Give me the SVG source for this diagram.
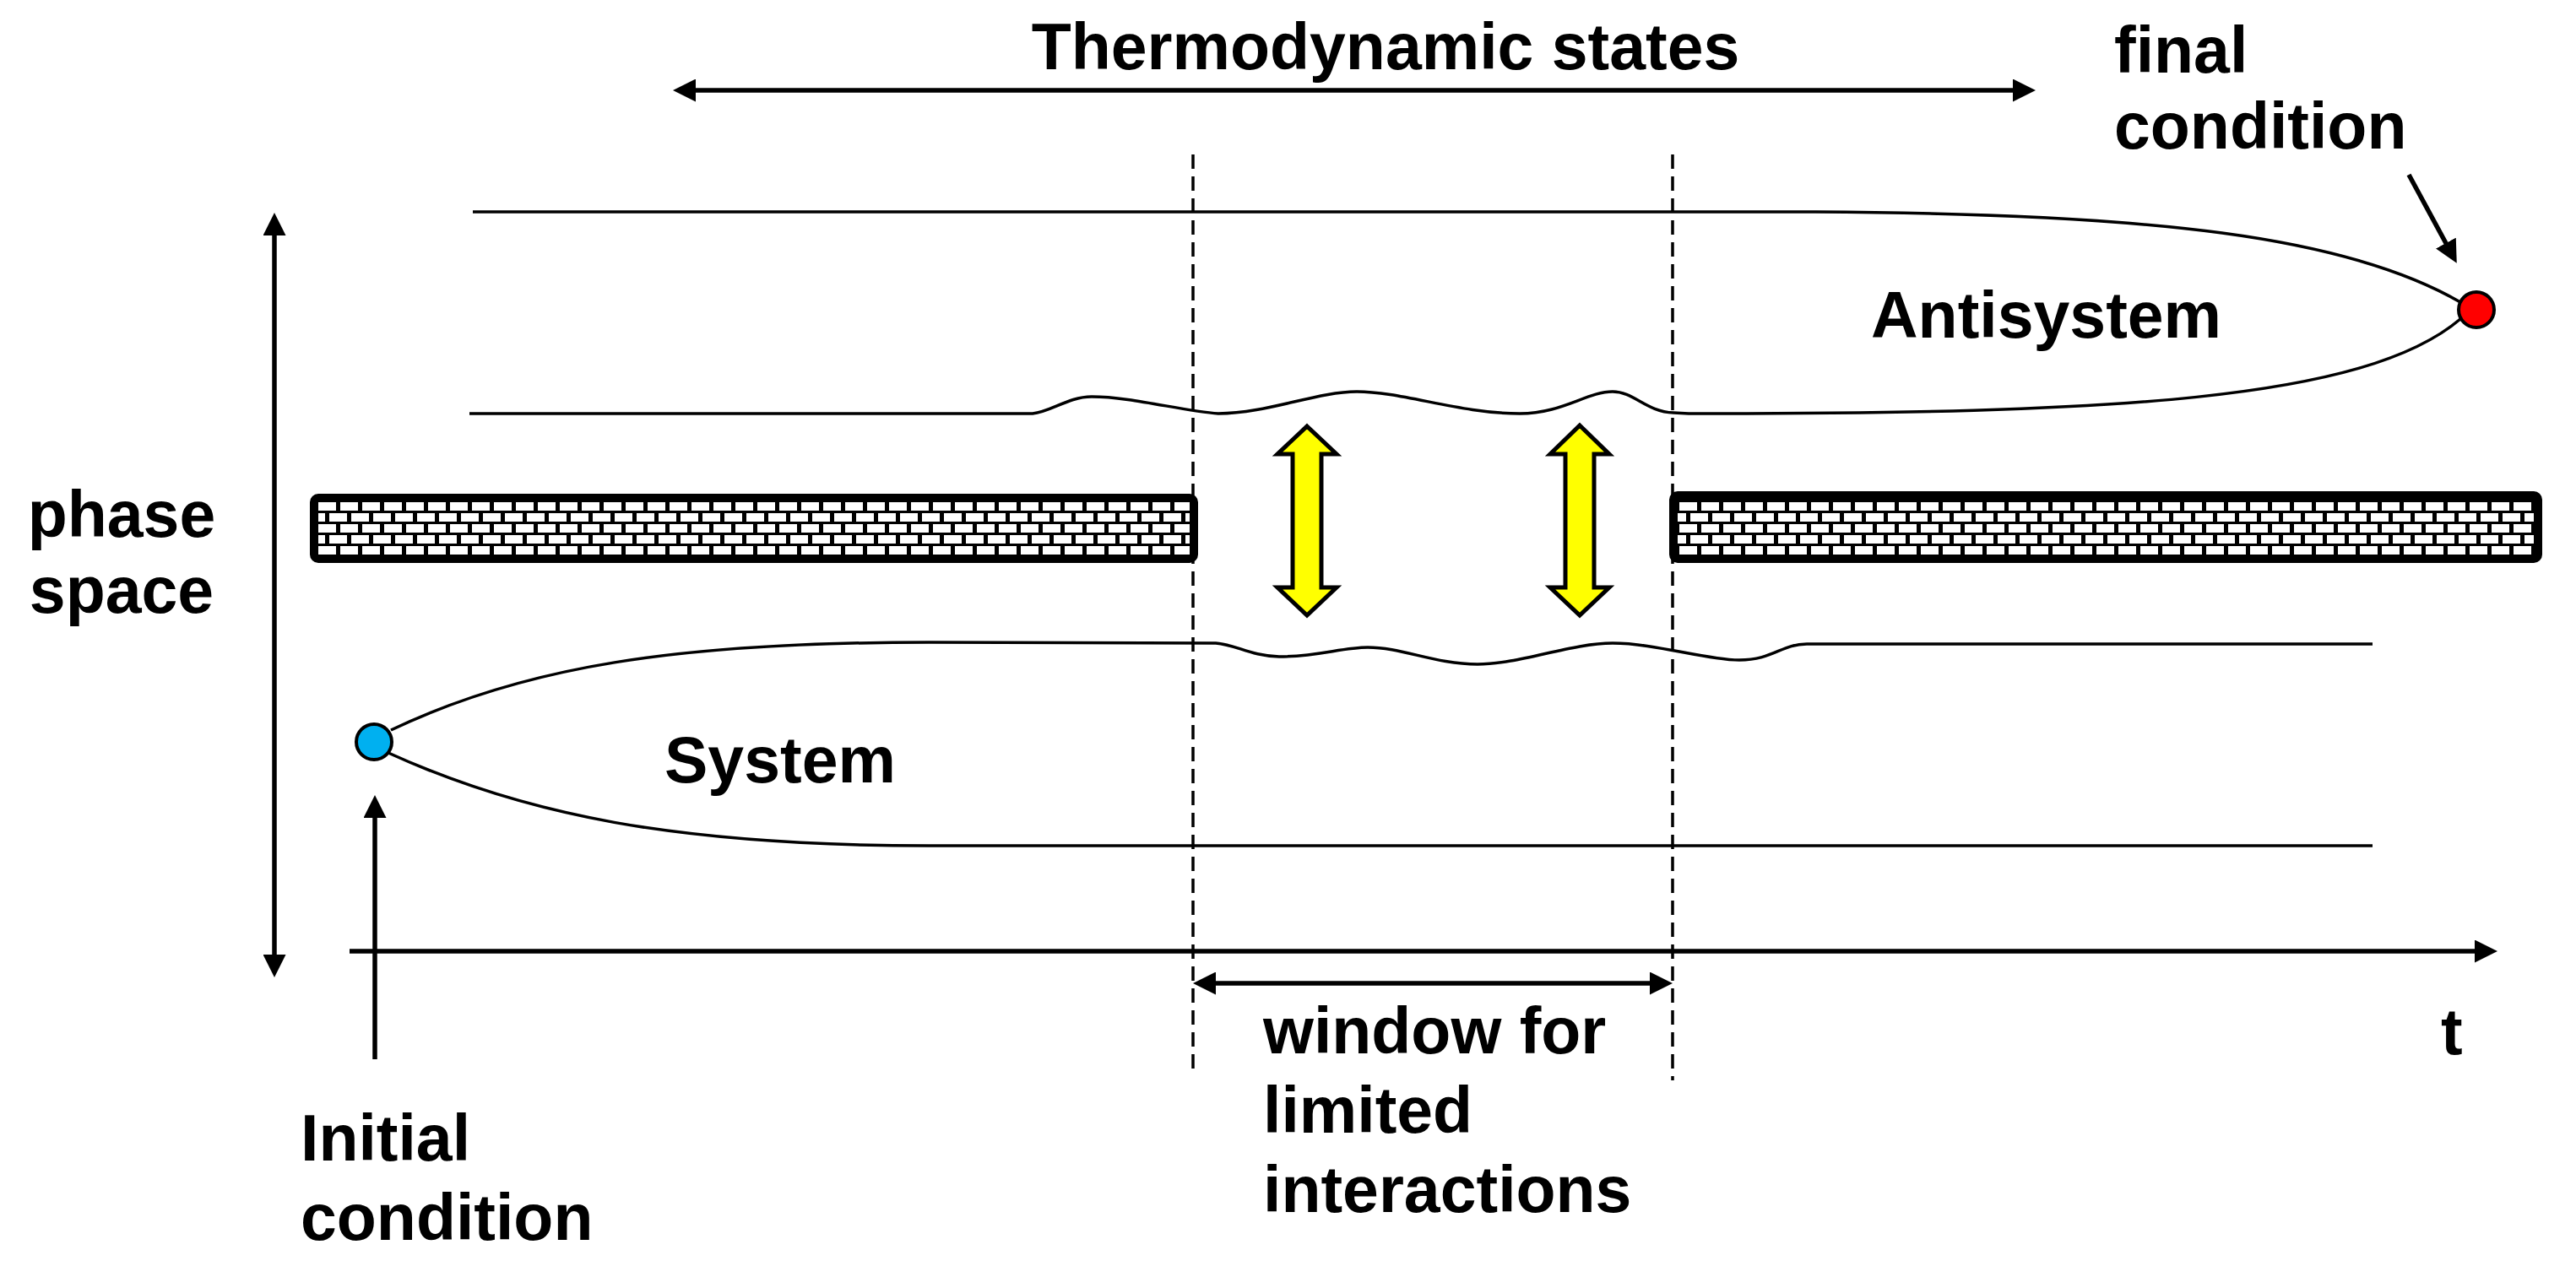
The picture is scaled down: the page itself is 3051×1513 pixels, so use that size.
<svg xmlns="http://www.w3.org/2000/svg" width="3051" height="1513" viewBox="0 0 3051 1513">
<style>
.lbl{font-family:"Liberation Sans",Arial,sans-serif;font-weight:bold;font-size:77px;fill:#000}
.curve{fill:none;stroke:#000;stroke-width:3.5}
.axis{fill:none;stroke:#000;stroke-width:5.5}
.dash{fill:none;stroke:#000;stroke-width:3.5;stroke-dasharray:17 9}
.bar{fill:url(#brick);stroke:#000;stroke-width:10}
.ex{fill:#FFFF00;stroke:#000;stroke-width:5;stroke-linejoin:miter}
.dot{stroke:#000;stroke-width:4}
</style>
<defs>
<marker id="ah" markerUnits="userSpaceOnUse" markerWidth="27" markerHeight="27" viewBox="0 0 27 27" refX="17" refY="13.5" orient="auto-start-reverse">
<path d="M0,0 L27,13.5 L0,27 z" fill="#000"/>
</marker>
<pattern id="brick" patternUnits="userSpaceOnUse" x="377" y="595" width="26" height="26">
<rect x="0" y="0" width="26" height="26" fill="#000"/>
<rect x="0" y="0" width="21" height="10" fill="#fff"/>
<rect x="13" y="13" width="21" height="10" fill="#fff"/>
<rect x="-13" y="13" width="21" height="10" fill="#fff"/>
</pattern>
</defs>

<g id="connectors">
<line id="thermo-arrow" class="axis" x1="807" y1="107" x2="2401" y2="107" marker-start="url(#ah)" marker-end="url(#ah)"/>
<line id="phase-arrow" class="axis" x1="325" y1="262" x2="325" y2="1148" marker-start="url(#ah)" marker-end="url(#ah)"/>
<line id="t-axis" class="axis" x1="414" y1="1127" x2="2948" y2="1127" marker-end="url(#ah)"/>
<line id="initial-arrow" class="axis" x1="444" y1="1255" x2="444" y2="952" marker-end="url(#ah)"/>
<line id="window-arrow" class="axis" x1="1423" y1="1165" x2="1971" y2="1165" marker-start="url(#ah)" marker-end="url(#ah)"/>
<line id="final-arrow" class="axis" x1="2853" y1="207" x2="2905" y2="303" marker-end="url(#ah)"/>
<line class="dash" x1="1413" y1="183" x2="1413" y2="1268"/>
<line class="dash" x1="1981" y1="183" x2="1981" y2="1280"/>
</g>

<g id="antisystem">
<path class="curve" d="M560 251 L2150 251 C2550 253 2780 280 2914 358"/>
<path class="curve" d="M556 490 L1223 490 C1245 488 1265 470 1293 470 C1340 470 1400 487 1443 490 C1500 490 1560 464 1607 464 C1660 464 1730 490 1800 490 C1850 490 1880 464 1910 464 C1935 464 1950 488 1982 489 L2000 490 C2500 490 2800 475 2914 378"/>
<text class="lbl" x="2216" y="400">Antisystem</text>
</g>

<g id="system">
<path class="curve" d="M463 865 C620 790 800 761 1100 761 L1440 762 C1465 764 1480 777 1515 778 C1560 778 1590 767 1620 767 C1660 767 1700 787 1750 787 C1800 787 1860 762 1910 762 C1960 762 2020 782 2060 782 C2100 782 2110 763 2140 763 L2810 763"/>
<path class="curve" d="M460 892 C620 965 800 1002 1100 1002 L2810 1002"/>
<text class="lbl" x="787" y="927">System</text>
</g>

<g id="wall-left"><rect class="bar" x="372" y="590" width="1042" height="72" rx="5"/></g>
<g id="wall-right"><rect class="bar" x="1982" y="587" width="1024" height="75" rx="5"/></g>

<g id="exchange-left"><polygon class="ex" points="1548,505 1583,538 1565,538 1565,696 1583,696 1548,729 1513,696 1531,696 1531,538 1513,538"/></g>
<g id="exchange-right"><polygon class="ex" points="1871,504 1906,538 1888,538 1888,696 1906,696 1871,729 1836,696 1854,696 1854,538 1836,538"/></g>

<g id="initial-point"><circle class="dot" cx="443" cy="879" r="21" fill="#00B0F0"/></g>
<g id="final-point"><circle class="dot" cx="2933" cy="367" r="21" fill="#FF0000"/></g>

<g id="labels">
<text class="lbl" x="1641" y="82" text-anchor="middle">Thermodynamic states</text>
<text class="lbl" x="2504" y="86">final</text>
<text class="lbl" x="2504" y="176">condition</text>
<text class="lbl" x="144" y="636" text-anchor="middle">phase</text>
<text class="lbl" x="144" y="726" text-anchor="middle">space</text>
<text class="lbl" x="356" y="1375">Initial</text>
<text class="lbl" x="356" y="1469">condition</text>
<text class="lbl" x="1496" y="1248">window for</text>
<text class="lbl" x="1496" y="1342">limited</text>
<text class="lbl" x="1496" y="1436">interactions</text>
<text class="lbl" x="2891" y="1249">t</text>
</g>
</svg>
